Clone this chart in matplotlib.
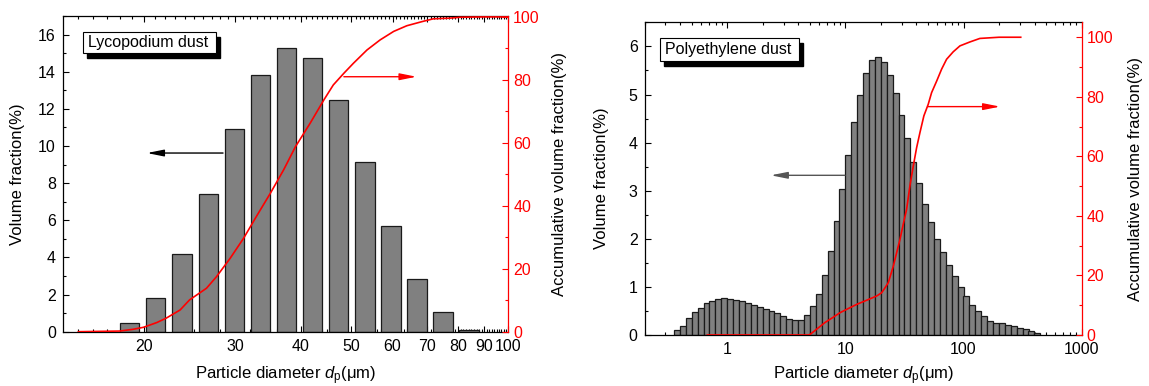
import matplotlib
matplotlib.use("Agg")
import matplotlib.pyplot as plt
import numpy as np
from matplotlib.patches import Rectangle
from matplotlib.ticker import FixedLocator, FixedFormatter, MultipleLocator, NullFormatter

plt.rcParams['font.family'] = ['Liberation Sans', 'DejaVu Sans']
plt.rcParams['mathtext.fontset'] = 'custom'
plt.rcParams['mathtext.rm'] = 'Liberation Sans'
plt.rcParams['mathtext.it'] = 'Liberation Sans:italic'

# Lycopodium dust: size classes (um), volume fraction (%), cumulative curve
lyco_size = [18.8, 21.1, 23.7, 26.6, 29.9, 33.5, 37.6, 42.2, 47.3, 53.1, 59.6, 66.8, 75.0, 84.1]
lyco_frac = [0.45, 1.83, 4.17, 7.41, 10.92, 13.81, 15.25, 14.75, 12.5, 9.12, 5.67, 2.82, 1.04, 0.08]
lyco_cum_x = [15.0, 18.0, 19.1, 20.0, 21.2, 22.1, 23.5, 24.5, 26.4, 27.6, 29.3, 31.1, 32.9,
              35.0, 37.1, 39.1, 41.7, 44.3, 46.2, 48.4, 50.5, 53.6, 56.8, 60.3, 63.9,
              68.3, 71.8, 77.1, 80.9, 89.7, 100.0]
lyco_cum_y = [0, 0.2, 0.76, 1.4, 2.9, 4.3, 6.9, 10.1, 13.8, 17.5, 23.3, 29.7, 36.6,
              44.0, 51.4, 58.8, 66.2, 73.6, 78.4, 82.1, 85.3, 89.5, 92.7, 95.4, 97.2,
              98.5, 99.4, 99.6, 99.9, 100, 100]

# Polyethylene dust
pe_size = [0.376, 0.422, 0.473, 0.531, 0.596, 0.668, 0.750, 0.841, 0.944, 1.059,
           1.189, 1.334, 1.496, 1.679, 1.884, 2.113, 2.371, 2.661, 2.985, 3.350,
           3.758, 4.217, 4.732, 5.309, 5.957, 6.683, 7.499, 8.414, 9.441, 10.59,
           11.89, 13.34, 14.96, 16.79, 18.84, 21.13, 23.71, 26.61, 29.85, 33.50,
           37.58, 42.17, 47.32, 53.09, 59.57, 66.83, 74.99, 84.14, 94.41, 105.9,
           118.9, 133.4, 149.6, 167.9, 188.4, 211.3, 237.1, 266.1, 298.5, 335.0,
           375.8, 421.7]
pe_frac = [0.10, 0.19, 0.35, 0.47, 0.57, 0.66, 0.71, 0.75, 0.76, 0.755,
           0.73, 0.70, 0.66, 0.62, 0.59, 0.55, 0.50, 0.45, 0.39, 0.34,
           0.31, 0.32, 0.42, 0.60, 0.85, 1.25, 1.74, 2.37, 3.03, 3.75,
           4.42, 5.00, 5.45, 5.71, 5.78, 5.67, 5.41, 5.03, 4.57, 4.10,
           3.60, 3.15, 2.73, 2.35, 2.00, 1.73, 1.45, 1.22, 1.00, 0.81,
           0.63, 0.49, 0.39, 0.30, 0.26, 0.24, 0.21, 0.19, 0.15, 0.12,
           0.08, 0.04]
pe_cum_x = [0.68, 4.9, 5.03, 6.73, 7.92, 9.02, 10.6, 12.5, 15.2, 18.4, 20.3, 21.7,
            23.1, 25.5, 27.2, 29.0, 30.9, 33.0, 35.2, 37.6, 40.1, 42.8, 46.2, 50.3,
            53.7, 59.3, 65.3, 71.9, 81.8, 93.3, 113.0, 137.6, 200.0, 305.0]
pe_cum_y = [0, 0, 0.2, 4.2, 6.0, 7.5, 8.9, 10.3, 11.7, 13.1, 14.2, 15.9,
            17.6, 23.2, 27.7, 32.1, 37.2, 42.2, 50.1, 56.8, 62.9, 68.0, 73.6, 77.5,
            81.4, 85.3, 89.3, 92.6, 95.1, 97.1, 98.4, 99.6, 100, 100]

RED = '#ff0000'
FS = 11.5
LFS = 12


def log_bars(ax, centers, heights, decades):
    c = np.array(centers)
    left = c * 10 ** (-decades / 2)
    right = c * 10 ** (decades / 2)
    ax.bar(left, heights, width=right - left, align='edge', color='#808080',
           edgecolor='#1a1a1a', linewidth=0.9, zorder=2)


def label_box(ax, text, x0, y0, x1, y1):
    # shadow then white box, in axes fraction
    ax.add_patch(Rectangle((x0 + 0.009, y0 - 0.016), x1 - x0, y1 - y0, transform=ax.transAxes,
                           facecolor='black', edgecolor='black', zorder=5, clip_on=False))
    ax.add_patch(Rectangle((x0, y0), x1 - x0, y1 - y0, transform=ax.transAxes,
                           facecolor='white', edgecolor='black', linewidth=0.8, zorder=6,
                           clip_on=False))
    ax.text(x0 + 0.012, (y0 + y1) / 2, text, transform=ax.transAxes, fontsize=FS,
            va='center', ha='left', zorder=7)


def arrow(ax, x0, x1, y, color):
    ax.annotate('', xy=(x1, y), xytext=(x0, y),
                arrowprops=dict(arrowstyle='-|>,head_length=1.0,head_width=0.2',
                                color=color, lw=1.0, mutation_scale=10,
                                shrinkA=0, shrinkB=0), zorder=8)


def style_axes(ax, ax2, ylab_left, lx, rx, by):
    ax.tick_params(which='both', direction='in', top=True, right=False, labelsize=FS)
    ax.tick_params(which='major', length=4.5, width=0.8, pad=5)
    ax.tick_params(which='minor', length=2.5, width=0.8)
    ax.set_ylabel(ylab_left, fontsize=LFS)
    ax.yaxis.set_label_coords(lx, 0.5)
    ax.set_xlabel(r'Particle diameter $\mathit{d}_\mathrm{p}$(μm)', fontsize=LFS)
    ax.xaxis.set_label_coords(0.5, by)
    for s in ['left', 'bottom', 'top']:
        ax.spines[s].set_linewidth(0.9)
    ax.spines['right'].set_visible(False)
    ax2.spines['right'].set_color(RED)
    ax2.spines['right'].set_linewidth(0.9)
    for s in ['left', 'bottom', 'top']:
        ax2.spines[s].set_visible(False)
    ax2.tick_params(which='both', direction='in', colors=RED, labelsize=FS)
    ax2.tick_params(which='major', length=4.5, width=0.8)
    ax2.tick_params(which='minor', length=2.5, width=0.8)
    ax2.yaxis.set_major_locator(MultipleLocator(20))
    ax2.yaxis.set_minor_locator(MultipleLocator(10))
    ax2.set_ylabel('Accumulative volume fraction(%)', fontsize=LFS)
    ax2.yaxis.set_label_coords(rx, 0.5)


fig = plt.figure(figsize=(11.49, 3.86), dpi=100)

# left panel
ax1 = fig.add_axes([0.0546, 0.1407, 0.3878, 0.8179])
ax1b = ax1.twinx()
ax1.set_xscale('log')
log_bars(ax1, lyco_size, lyco_frac, 0.037)
ax1.set_xlim(14, 100)
ax1.set_ylim(0, 17)
ax1.xaxis.set_major_locator(FixedLocator([20, 30, 40, 50, 60, 70, 80, 90, 100]))
ax1.xaxis.set_major_formatter(FixedFormatter(['20', '30', '40', '50', '60', '70', '80', '90', '100']))
ax1.xaxis.set_minor_locator(FixedLocator([v for v in range(15, 100) if v % 10 != 0]))
ax1.xaxis.set_minor_formatter(NullFormatter())
ax1.yaxis.set_major_locator(MultipleLocator(2))
ax1.yaxis.set_minor_locator(MultipleLocator(1))
ax1b.plot(lyco_cum_x, lyco_cum_y, color=RED, lw=1.2, zorder=4)
ax1b.set_ylim(0, 100.3)
style_axes(ax1, ax1b, 'Volume fraction(%)', -0.085, 1.098, -0.104)
label_box(ax1, 'Lycopodium dust', 0.045, 0.882, 0.343, 0.950)
arrow(ax1, 28.4, 20.3, 9.62, 'black')
arrow(ax1b, 48.4, 66.7, 81, RED)

# right panel
ax2 = fig.add_axes([0.561, 0.1321, 0.3804, 0.810])
ax2b = ax2.twinx()
ax2.set_xscale('log')
log_bars(ax2, pe_size, pe_frac, 0.05)
ax2.set_xlim(0.2, 1000)
ax2.set_ylim(0, 6.5)
ax2.xaxis.set_major_locator(FixedLocator([1, 10, 100, 1000]))
ax2.xaxis.set_major_formatter(FixedFormatter(['1', '10', '100', '1000']))
ax2.xaxis.set_minor_locator(FixedLocator([m * 10.0 ** e for e in range(-1, 3) for m in range(2, 10)]))
ax2.xaxis.set_minor_formatter(NullFormatter())
ax2.yaxis.set_major_locator(MultipleLocator(1))
ax2.yaxis.set_minor_locator(MultipleLocator(0.5))
ax2b.plot(pe_cum_x, pe_cum_y, color=RED, lw=1.2, zorder=4)
ax2b.set_ylim(0, 105)
style_axes(ax2, ax2b, 'Volume fraction(%)', -0.081, 1.106, -0.095)
label_box(ax2, 'Polyethylene dust', 0.035, 0.876, 0.353, 0.949)
arrow(ax2, 9.94, 2.34, 3.32, '#555555')
arrow(ax2b, 49.7, 204, 76.7, RED)

fig.savefig('out.png', dpi=100)
